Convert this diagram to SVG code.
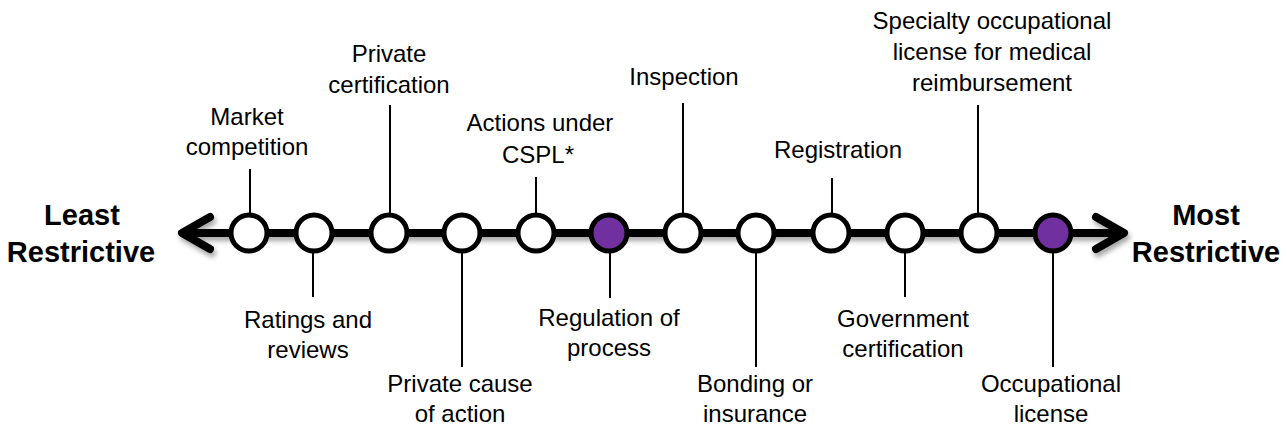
<svg xmlns="http://www.w3.org/2000/svg" width="1287" height="429" viewBox="0 0 1287 429">
<defs>
<style>
text{font-family:"Liberation Sans",Arial,sans-serif;font-size:24px;fill:#000;text-anchor:middle}
.end{font-weight:bold;font-size:29px}
.tick{stroke:#000;stroke-width:2}
.node{stroke:#000;stroke-width:5;fill:#fff}
.node.p{fill:#7030A0}
.axis{stroke:#000;stroke-width:8;fill:none;stroke-linecap:round;stroke-linejoin:round}
</style>
<filter id="sh" x="-5%" y="-50%" width="110%" height="200%">
<feDropShadow dx="2" dy="4" stdDeviation="2.5" flood-color="#000" flood-opacity="0.35"/>
</filter>
</defs>
<rect width="1287" height="429" fill="#fff"/>
<g id="connectors">
<g filter="url(#sh)">
<line class="axis" x1="184" y1="233" x2="1122" y2="233"/>
<polyline class="axis" points="210,217 182,233 210,249"/>
<polyline class="axis" points="1096,217 1124,233 1096,249"/>
</g>
<line class="tick" x1="250" y1="169" x2="250" y2="215"/>
<line class="tick" x1="313" y1="251" x2="313" y2="297"/>
<line class="tick" x1="390" y1="105" x2="390" y2="215"/>
<line class="tick" x1="462" y1="251" x2="462" y2="367"/>
<line class="tick" x1="536" y1="177" x2="536" y2="215"/>
<line class="tick" x1="610" y1="251" x2="610" y2="298"/>
<line class="tick" x1="683" y1="103" x2="683" y2="215"/>
<line class="tick" x1="756" y1="251" x2="756" y2="367"/>
<line class="tick" x1="832" y1="178" x2="832" y2="215"/>
<line class="tick" x1="905" y1="251" x2="905" y2="297"/>
<line class="tick" x1="978" y1="105" x2="978" y2="215"/>
<line class="tick" x1="1053" y1="251" x2="1053" y2="367"/>
</g>
<g id="n1"><circle class="node" cx="249" cy="233" r="18"/><text x="247" y="125">Market</text><text x="247" y="155">competition</text></g>
<g id="n2"><circle class="node" cx="314" cy="233" r="18"/><text x="308" y="328">Ratings and</text><text x="308" y="358">reviews</text></g>
<g id="n3"><circle class="node" cx="389" cy="233" r="18"/><text x="389" y="62">Private</text><text x="389" y="93">certification</text></g>
<g id="n4"><circle class="node" cx="462" cy="233" r="18"/><text x="460" y="392">Private cause</text><text x="460" y="422">of action</text></g>
<g id="n5"><circle class="node" cx="536" cy="233" r="18"/><text x="540" y="131">Actions under</text><text x="538" y="163">CSPL*</text></g>
<g id="n6"><circle class="node p" cx="609" cy="233" r="18"/><text x="609" y="326">Regulation of</text><text x="609" y="356">process</text></g>
<g id="n7"><circle class="node" cx="683" cy="233" r="18"/><text x="684" y="85">Inspection</text></g>
<g id="n8"><circle class="node" cx="756" cy="233" r="18"/><text x="755" y="392">Bonding or</text><text x="755" y="422">insurance</text></g>
<g id="n9"><circle class="node" cx="831" cy="233" r="18"/><text x="838" y="158">Registration</text></g>
<g id="n10"><circle class="node" cx="905" cy="233" r="18"/><text x="903" y="327">Government</text><text x="903" y="357">certification</text></g>
<g id="n11"><circle class="node" cx="979" cy="233" r="18"/><text x="992" y="29">Specialty occupational</text><text x="992" y="60">license for medical</text><text x="992" y="91">reimbursement</text></g>
<g id="n12"><circle class="node p" cx="1053" cy="233" r="18"/><text x="1051" y="392">Occupational</text><text x="1051" y="422">license</text></g>
<g id="left"><text class="end" x="82" y="225">Least</text><text class="end" x="81" y="262">Restrictive</text></g>
<g id="right"><text class="end" x="1206" y="225">Most</text><text class="end" x="1206" y="262">Restrictive</text></g>
</svg>
